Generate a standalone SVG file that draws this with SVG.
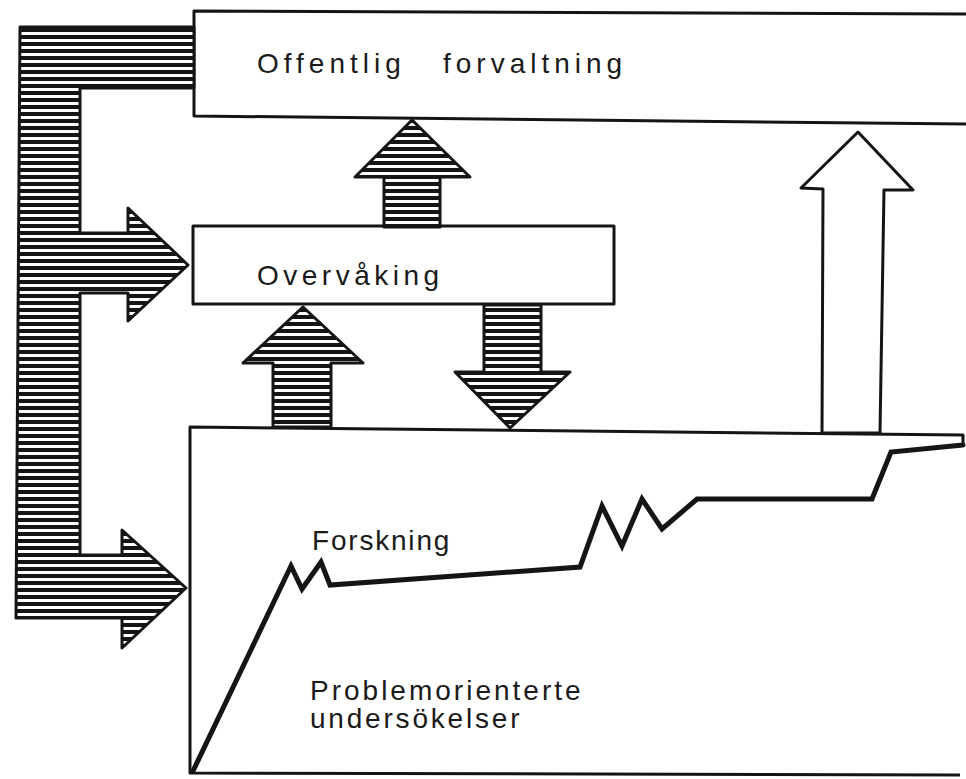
<svg xmlns="http://www.w3.org/2000/svg" width="966" height="779" viewBox="0 0 966 779">
  <style>
    .box { fill: none; stroke: #151515; stroke-width: 3; stroke-linejoin: round; }
    .lbl { font-family: "Liberation Sans", "DejaVu Sans", sans-serif; font-size: 28px; fill: #1a1a1a; }
    .hat { fill: url(#hatch); stroke: #151515; stroke-width: 3; stroke-linejoin: round; }
    .open { fill: #ffffff; stroke: #151515; stroke-width: 3; stroke-linejoin: round; }
    .curve { fill: none; stroke: #151515; stroke-width: 5; stroke-linejoin: miter; stroke-linecap: round; }
  </style>
  <defs>
    <pattern id="hatch" width="10" height="7" patternUnits="userSpaceOnUse">
      <rect width="10" height="7" fill="#ffffff"/>
      <rect width="10" height="4" fill="#151515"/>
    </pattern>
  </defs>
  <rect width="966" height="779" fill="#ffffff"/>

  <g id="offentlig-forvaltning">
    <path class="box" d="M966,14 L194,11 L194,116 L966,124"/>
    <text class="lbl" x="257" y="73" letter-spacing="5">Offentlig</text>
    <text class="lbl" x="443" y="73" letter-spacing="5">forvaltning</text>
  </g>

  <g id="overvaking">
    <rect class="box" x="193" y="226" width="421" height="78"/>
    <text class="lbl" x="257" y="285" letter-spacing="4.5">Overvåking</text>
  </g>

  <g id="forskning">
    <path class="box" d="M963,445 L963,435 L190,427 L190,773 L960,775"/>
    <polyline class="curve" points="193,771 291,566 302,589 321,562 330,585 580,567 602,506 622,546 642,499 662,529 697,499 872,499 891,452 963,445"/>
    <text class="lbl" x="312" y="550" letter-spacing="1.8">Forskning</text>
    <text class="lbl" x="310" y="700" letter-spacing="3">Problemorienterte</text>
    <text class="lbl" x="310" y="728" letter-spacing="2.8">undersökelser</text>
  </g>

  <g id="connectors">
    <polygon class="hat" points="20,27 194,27 194,88 80,88 80,233 128,233 128,208 188,265 128,321 128,293 80,293 80,555 122,555 122,530 186,588 122,648 122,618 16,618"/>
    <polygon class="hat" points="384,227 384,177 355,177 412,120 470,177 440,177 440,227"/>
    <polygon class="hat" points="273,427 273,363 243,363 303,307 363,363 331,363 331,427"/>
    <polygon class="hat" points="484,305 484,372 455,372 510,428 570,372 541,372 541,305"/>
    <polygon class="open" points="822,433 823,189 801,188 858,132 913,190 884,190 880,433"/>
  </g>
</svg>
